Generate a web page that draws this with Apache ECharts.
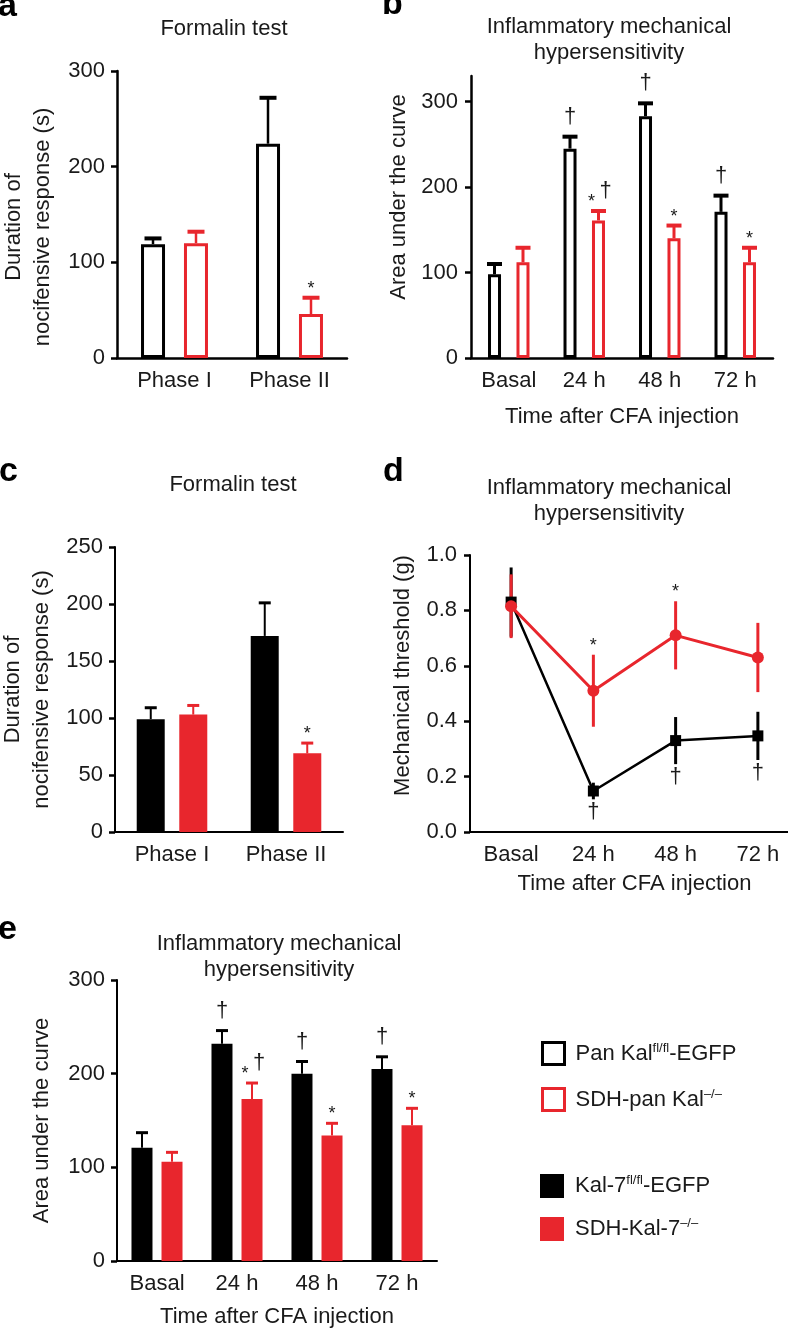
<!DOCTYPE html>
<html>
<head>
<meta charset="utf-8">
<script src="https://cdn.jsdelivr.net/npm/echarts@6/dist/echarts.min.js"></script>
<style>
  html, body { margin: 0; padding: 0; background: #fff; }
  #main { width: 788px; height: 1328px; }
</style>
</head>
<body>
<div id="main"></div>
<script>
const phases = ['Phase I', 'Phase II'];
const times = ['Basal', '24 h', '48 h', '72 h'];

// a: formalin test, pan Kal (open bars)
const aCtrl = [119, 224];
const aCtrlSem = [6, 48];
const aKo = [120, 46];
const aKoSem = [12, 17];
const aKoNotes = ['', '*'];

// b: CFA, area under the curve, pan Kal
const bCtrl = [98, 245, 283, 171];
const bCtrlSem = [12, 14, 15, 19];
const bCtrlNotes = ['', '†', '†', '†'];
const bKo = [112, 161, 140, 112];
const bKoSem = [17, 11, 15, 17];
const bKoNotes = ['', '*†', '*', '*'];

// c: formalin test, Kal-7 (filled bars)
const cCtrl = [99, 172];
const cCtrlSem = [10, 29];
const cKo = [103, 69];
const cKoSem = [8, 9];
const cKoNotes = ['', '*'];

// d: mechanical threshold over time
const dCtrl = [0.83, 0.148, 0.33, 0.347];
const dCtrlSem = [0.125, 0.03, 0.085, 0.087];
const dCtrlNotes = ['', '†', '†', '†'];
const dKo = [0.815, 0.51, 0.71, 0.63];
const dKoSem = [0.115, 0.13, 0.123, 0.125];
const dKoNotes = ['', '*', '*', ''];

// e: CFA, area under the curve, Kal-7
const eCtrl = [121, 232, 200, 205];
const eCtrlSem = [16, 14, 13, 13];
const eCtrlNotes = ['', '†', '†', '†'];
const eKo = [106, 173, 134, 145];
const eKoSem = [10, 17, 13, 18];
const eKoNotes = ['', '*†', '*', '*'];

const PAN_CTRL = 'Pan Kal fl/fl-EGFP';
const PAN_KO = 'SDH-pan Kal -/-';
const K7_CTRL = 'Kal-7 fl/fl-EGFP';
const K7_KO = 'SDH-Kal-7 -/-';
const legendText = {};
legendText[PAN_CTRL] = '{t|Pan Kal}{s|fl/fl}{t|-EGFP}';
legendText[PAN_KO] = '{t|SDH-pan Kal}{s|\u2013/\u2013}';
legendText[K7_CTRL] = '{t|Kal-7}{s|fl/fl}{t|-EGFP}';
legendText[K7_KO] = '{t|SDH-Kal-7}{s|\u2013/\u2013}';

const RED = '#e8262d';
const INK = '#1a1a1a';
const FONT = '"Liberation Sans", Arial, Helvetica, sans-serif';

const txt = { color: INK, fontFamily: FONT, fontSize: 22 };

function xCat (grid, data, extra) {
  return Object.assign({
    type: 'category', gridIndex: grid, data: data, boundaryGap: true,
    axisLine: { lineStyle: { color: '#000', width: 2.5 } },
    axisTick: { alignWithLabel: true, length: 6, lineStyle: { color: '#000', width: 2.5 } },
    axisLabel: Object.assign({ margin: 12 }, txt),
    splitLine: { show: false }
  }, extra || {});
}

function yVal (grid, max, interval, extra) {
  return Object.assign({
    type: 'value', gridIndex: grid, min: 0, max: max, interval: interval,
    axisLine: { show: true, lineStyle: { color: '#000', width: 2.5 } },
    axisTick: { show: true, length: 6, lineStyle: { color: '#000', width: 2.5 } },
    axisLabel: Object.assign({ margin: 12 }, txt),
    splitLine: { show: false },
    nameLocation: 'middle',
    nameTextStyle: Object.assign({ lineHeight: 29 }, txt)
  }, extra || {});
}

function bars (grid, name, data, style, width, gap) {
  return {
    type: 'bar', name: name, xAxisIndex: grid, yAxisIndex: grid, data: data,
    barWidth: width, barGap: gap, itemStyle: style, z: 2, silent: true
  };
}

// error bars (mean + SEM) and the significance marks, drawn through the axes
function errSeries (grid, means, sems, notes, o) {
  return {
    type: 'custom', xAxisIndex: grid, yAxisIndex: grid, z: o.z || 5, silent: true,
    data: means.map(function (m, i) { return [i, m, sems[i]]; }),
    renderItem: function (params, api) {
      const i = api.value(0), m = api.value(1), s = api.value(2);
      const mid = api.coord([i, m]);
      const x = mid[0] + (o.dx || 0);
      const hi = api.coord([i, m + s])[1];
      const lo = o.both ? api.coord([i, m - s])[1] : mid[1];
      const kids = [{ type: 'line', shape: { x1: x, y1: lo, x2: x, y2: hi }, style: { stroke: o.color, lineWidth: o.lw } }];
      if (o.cap) {
        kids.push({ type: 'line', shape: { x1: x - o.cap / 2, y1: hi, x2: x + o.cap / 2, y2: hi }, style: { stroke: o.color, lineWidth: o.capW } });
      }
      const chars = ((notes && notes[params.dataIndex]) || '').split('');
      chars.forEach(function (c, k) {
        const nx = chars.length > 1 ? x + (k === 0 ? -7 : 7) : x;
        const ny = o.below ? lo + (c === '*' ? 10 : 13) : hi - (c === '*' ? 9 : 20);
        kids.push({
          type: 'text', x: nx, y: ny,
          style: { text: c, fill: INK, fontSize: c === '*' ? 18 : 22, fontFamily: FONT, align: 'center', verticalAlign: 'middle' }
        });
      });
      return { type: 'group', children: kids };
    }
  };
}

const openBlack = { color: '#fff', borderColor: '#000', borderWidth: 3 };
const openRed = { color: '#fff', borderColor: RED, borderWidth: 3 };
const fillBlack = { color: '#000' };
const fillRed = { color: RED };

const letter = { fontSize: 34, fontWeight: 'bold', color: '#000', fontFamily: FONT, lineHeight: 34 };
const head = Object.assign({ fontWeight: 'normal', lineHeight: 26 }, txt);

const legendTextStyle = {
  color: INK, fontFamily: FONT, fontSize: 22, padding: [0, 0, 0, 6],
  rich: {
    t: { color: INK, fontFamily: FONT, fontSize: 22, lineHeight: 24 },
    s: { color: INK, fontFamily: FONT, fontSize: 13, lineHeight: 13, verticalAlign: 'top' }
  }
};

const option = {
  animation: false,
  backgroundColor: '#fff',
  title: [
    { text: 'a', left: -2, top: -10, padding: 0, textStyle: letter },
    { text: 'b', left: 382, top: -12, padding: 0, textStyle: letter },
    { text: 'c', left: -1, top: 455, padding: 0, textStyle: letter },
    { text: 'd', left: 383, top: 455, padding: 0, textStyle: letter },
    { text: 'e', left: -2, top: 913, padding: 0, textStyle: letter },
    { text: 'Formalin test', left: 224, top: 16, textAlign: 'center', padding: 0, textStyle: head },
    { text: 'Inflammatory mechanical\nhypersensitivity', left: 609, top: 14, textAlign: 'center', padding: 0, textStyle: head },
    { text: 'Formalin test', left: 233, top: 472, textAlign: 'center', padding: 0, textStyle: head },
    { text: 'Inflammatory mechanical\nhypersensitivity', left: 609, top: 475, textAlign: 'center', padding: 0, textStyle: head },
    { text: 'Inflammatory mechanical\nhypersensitivity', left: 279, top: 931, textAlign: 'center', padding: 0, textStyle: head }
  ],
  legend: [
    {
      data: [
        { name: PAN_CTRL, itemStyle: { color: '#fff', borderColor: '#000', borderWidth: 3 } },
        { name: PAN_KO, itemStyle: { color: '#fff', borderColor: RED, borderWidth: 3 } }
      ],
      orient: 'vertical', left: 541, top: 1041, padding: 0,
      icon: 'rect', itemWidth: 22, itemHeight: 22, itemGap: 21, selectedMode: false,
      formatter: function (n) { return legendText[n]; },
      textStyle: legendTextStyle
    },
    {
      data: [K7_CTRL, K7_KO], orient: 'vertical', left: 540, top: 1174, padding: 0,
      icon: 'rect', itemWidth: 24, itemHeight: 24, itemGap: 19, selectedMode: false,
      formatter: function (n) { return legendText[n]; },
      textStyle: legendTextStyle
    }
  ],
  grid: [
    { left: 117, top: 71, width: 230, height: 287, outerBoundsMode: 'none' },
    { left: 471, top: 76, width: 302, height: 282, outerBoundsMode: 'none' },
    { left: 115, top: 547, width: 228, height: 285, outerBoundsMode: 'none' },
    { left: 470, top: 555, width: 329, height: 277, outerBoundsMode: 'none' },
    { left: 117, top: 980, width: 320, height: 281, outerBoundsMode: 'none' }
  ],
  xAxis: [
    xCat(0, phases),
    xCat(1, times, { name: 'Time after CFA injection', nameLocation: 'middle', nameGap: 46, nameTextStyle: Object.assign({ lineHeight: 26 }, txt) }),
    xCat(2, phases, { axisLine: { lineStyle: { color: '#000', width: 2 } } }),
    xCat(3, times, { name: 'Time after CFA injection', nameLocation: 'middle', nameGap: 39, nameTextStyle: Object.assign({ lineHeight: 26 }, txt), axisLine: { lineStyle: { color: '#000', width: 2 } } }),
    xCat(4, times, { name: 'Time after CFA injection', nameLocation: 'middle', nameGap: 43, nameTextStyle: Object.assign({ lineHeight: 26 }, txt), axisLine: { lineStyle: { color: '#000', width: 2 } } })
  ],
  yAxis: [
    yVal(0, 300, 100, { name: 'Duration of\nnocifensive response (s)', nameGap: 60, nameTextStyle: Object.assign({ lineHeight: 29, padding: [0, 25, 0, 0] }, txt) }),
    yVal(1, 330, 100, {
      name: 'Area under the curve', nameGap: 57,
      nameTextStyle: Object.assign({ lineHeight: 30, padding: [0, 0, 0, 40] }, txt),
      axisLabel: Object.assign({ margin: 13, customValues: [0, 100, 200, 300] }, txt),
      axisTick: { show: true, length: 6, lineStyle: { color: '#000', width: 2.5 }, customValues: [0, 100, 200, 300] }
    }),
    yVal(2, 250, 50, { name: 'Duration of\nnocifensive response (s)', nameGap: 59, axisLine: { show: true, lineStyle: { color: '#000', width: 2 } } }),
    yVal(3, 1, 0.2, {
      name: 'Mechanical threshold (g)', nameGap: 52,
      nameTextStyle: Object.assign({ lineHeight: 30, padding: [0, 0, 0, 36] }, txt),
      axisLine: { show: true, lineStyle: { color: '#000', width: 2 } },
      axisLabel: Object.assign({ margin: 13, formatter: function (v) { return v.toFixed(1); } }, txt)
    }),
    yVal(4, 300, 100, { name: 'Area under the curve', nameGap: 60, nameTextStyle: Object.assign({ lineHeight: 30 }, txt), axisLine: { show: true, lineStyle: { color: '#000', width: 2 } } })
  ],
  series: [
    bars(0, PAN_CTRL, aCtrl, openBlack, 24, '79%'),
    bars(0, PAN_KO, aKo, openRed, 24, '79%'),
    bars(1, PAN_CTRL, bCtrl, openBlack, 13, '119%'),
    bars(1, PAN_KO, bKo, openRed, 13, '119%'),
    bars(2, K7_CTRL, cCtrl, fillBlack, 28, '52%'),
    bars(2, K7_KO, cKo, fillRed, 28, '52%'),
    bars(4, K7_CTRL, eCtrl, fillBlack, 21, '43%'),
    bars(4, K7_KO, eKo, fillRed, 21, '43%'),
    {
      type: 'line', name: 'Kal-7 control time course', xAxisIndex: 3, yAxisIndex: 3, data: dCtrl,
      symbol: 'rect', symbolSize: 11, z: 3, silent: true,
      itemStyle: { color: '#000' }, lineStyle: { color: '#000', width: 2.5 }
    },
    {
      type: 'line', name: 'Kal-7 KO time course', xAxisIndex: 3, yAxisIndex: 3, data: dKo,
      symbol: 'circle', symbolSize: 12, z: 4, silent: true,
      itemStyle: { color: RED }, lineStyle: { color: RED, width: 3 }
    },
    errSeries(0, aCtrl, aCtrlSem, null, { dx: -21.5, color: '#000', lw: 2.5, cap: 17, capW: 4 }),
    errSeries(0, aKo, aKoSem, aKoNotes, { dx: 21.5, color: RED, lw: 2.5, cap: 17, capW: 4 }),
    errSeries(1, bCtrl, bCtrlSem, bCtrlNotes, { dx: -14.25, color: '#000', lw: 3, cap: 15, capW: 4 }),
    errSeries(1, bKo, bKoSem, bKoNotes, { dx: 14.25, color: RED, lw: 3, cap: 15, capW: 4 }),
    errSeries(2, cCtrl, cCtrlSem, null, { dx: -21.25, color: '#000', lw: 2, cap: 12, capW: 3 }),
    errSeries(2, cKo, cKoSem, cKoNotes, { dx: 21.25, color: RED, lw: 2, cap: 12, capW: 3 }),
    errSeries(4, eCtrl, eCtrlSem, eCtrlNotes, { dx: -15, color: '#000', lw: 2, cap: 12, capW: 3 }),
    errSeries(4, eKo, eKoSem, eKoNotes, { dx: 15, color: RED, lw: 2, cap: 12, capW: 3 }),
    errSeries(3, dCtrl, dCtrlSem, dCtrlNotes, { both: true, below: true, color: '#000', lw: 3, z: 2 }),
    errSeries(3, dKo, dKoSem, dKoNotes, { both: true, color: RED, lw: 3, z: 3 })
  ]
};

const chart = echarts.init(document.getElementById('main'), null, { renderer: 'canvas' });
chart.setOption(option);
</script>
</body>
</html>
